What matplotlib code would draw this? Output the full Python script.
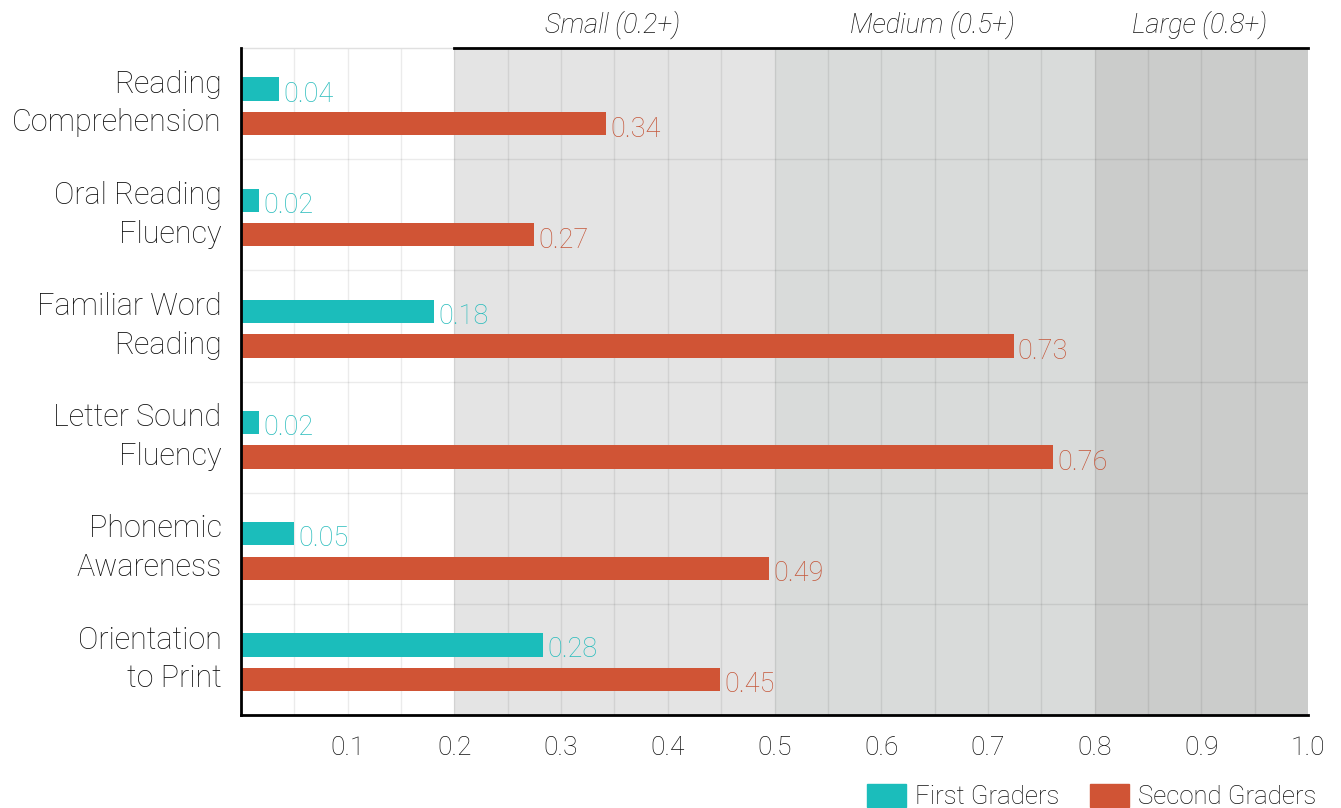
import numpy as np
import matplotlib.pyplot as plt
from matplotlib.patches import Patch

plt.rcParams['font.family'] = ['Roboto', 'DejaVu Sans']
plt.rcParams['font.weight'] = 'light'

# data
categories = ['Reading\nComprehension', 'Oral Reading\nFluency', 'Familiar Word\nReading',
              'Letter Sound\nFluency', 'Phonemic\nAwareness', 'Orientation\nto Print']
first_graders = [0.036, 0.017, 0.181, 0.017, 0.05, 0.283]
second_graders = [0.342, 0.275, 0.724, 0.761, 0.495, 0.449]
first_labels = ['0.04', '0.02', '0.18', '0.02', '0.05', '0.28']
second_labels = ['0.34', '0.27', '0.73', '0.76', '0.49', '0.45']
bands = [(0.2, 0.5, 'Small (0.2+)'), (0.5, 0.8, 'Medium (0.5+)'), (0.8, 1.0, 'Large (0.8+)')]
band_colors = ['#e4e4e4', '#d9dbda', '#cbcccb']
xticks = [0.1, 0.2, 0.3, 0.4, 0.5, 0.6, 0.7, 0.8, 0.9, 1.0]

teal = '#1bbdbb'
orange = '#d05435'
teal_txt = '#28bcbc'
orange_txt = '#c5573a'
dark = '#111111'

fig = plt.figure(figsize=(13.41, 8.08), dpi=100)
ax = fig.add_axes([241/1341, 1-715/808, (1308-241)/1341, (715-48)/808])

y = np.arange(len(categories))
h = 0.21

# shaded effect-size bands
for (x0, x1, lab), c in zip(bands, band_colors):
    ax.axvspan(x0, x1, color=c, zorder=0, lw=0)
    ax.text((x0 + x1) / 2 - 0.002, -0.71, lab, ha='center', va='center', fontsize=19.5,
            style='italic', color=dark, clip_on=False)

# grid
for gx in np.arange(0.05, 1.0, 0.05):
    ax.axvline(gx, color='#000000', alpha=0.08, lw=1, zorder=1)
for gy in np.arange(0.5, len(categories) - 0.5, 1):
    ax.axhline(gy, color='#000000', alpha=0.08, lw=1, zorder=1)
ax.plot([0, 0.2], [-0.5, -0.5], color='#e0e0e0', lw=1, zorder=1, clip_on=False)
ax.plot([0.2, 1.0], [-0.5, -0.5], color='black', lw=2, zorder=3, clip_on=False)

ax.barh(y - 0.13, first_graders, height=h, color=teal, zorder=2)
ax.barh(y + 0.18, second_graders, height=h, color=orange, zorder=2)

for yi, v, s in zip(y, first_graders, first_labels):
    ax.text(v + 0.004, yi - 0.085, s, va='center', ha='left', fontsize=19.5, color=teal_txt)
for yi, v, s in zip(y, second_graders, second_labels):
    ax.text(v + 0.004, yi + 0.23, s, va='center', ha='left', fontsize=19.5, color=orange_txt)

ax.set_xlim(0, 1.0)
ax.set_ylim(len(categories) - 0.5, -0.5)
ax.set_xticks(xticks)
ax.set_xticklabels([f'{t:.1f}' for t in xticks], fontsize=19, color=dark)
ax.set_yticks(y - 0.07)
ax.set_yticklabels(categories, fontsize=22, color=dark, linespacing=1.42)
ax.tick_params(axis='both', length=0)
ax.tick_params(axis='x', pad=15)
ax.tick_params(axis='y', pad=14)

for s in ['top', 'right']:
    ax.spines[s].set_visible(False)
ax.spines['left'].set_linewidth(2)
ax.spines['bottom'].set_linewidth(2)

handles = [Patch(color=teal, label='First Graders'), Patch(color=orange, label='Second Graders')]
fig.legend(handles=handles, loc='lower right', bbox_to_anchor=(1339/1341, -0.03), ncol=2,
           frameon=False, fontsize=18.5, handlelength=1.5, handleheight=1.0,
           handletextpad=0.35, columnspacing=1.2, labelcolor=dark)

fig.savefig('out.png', dpi=100)
